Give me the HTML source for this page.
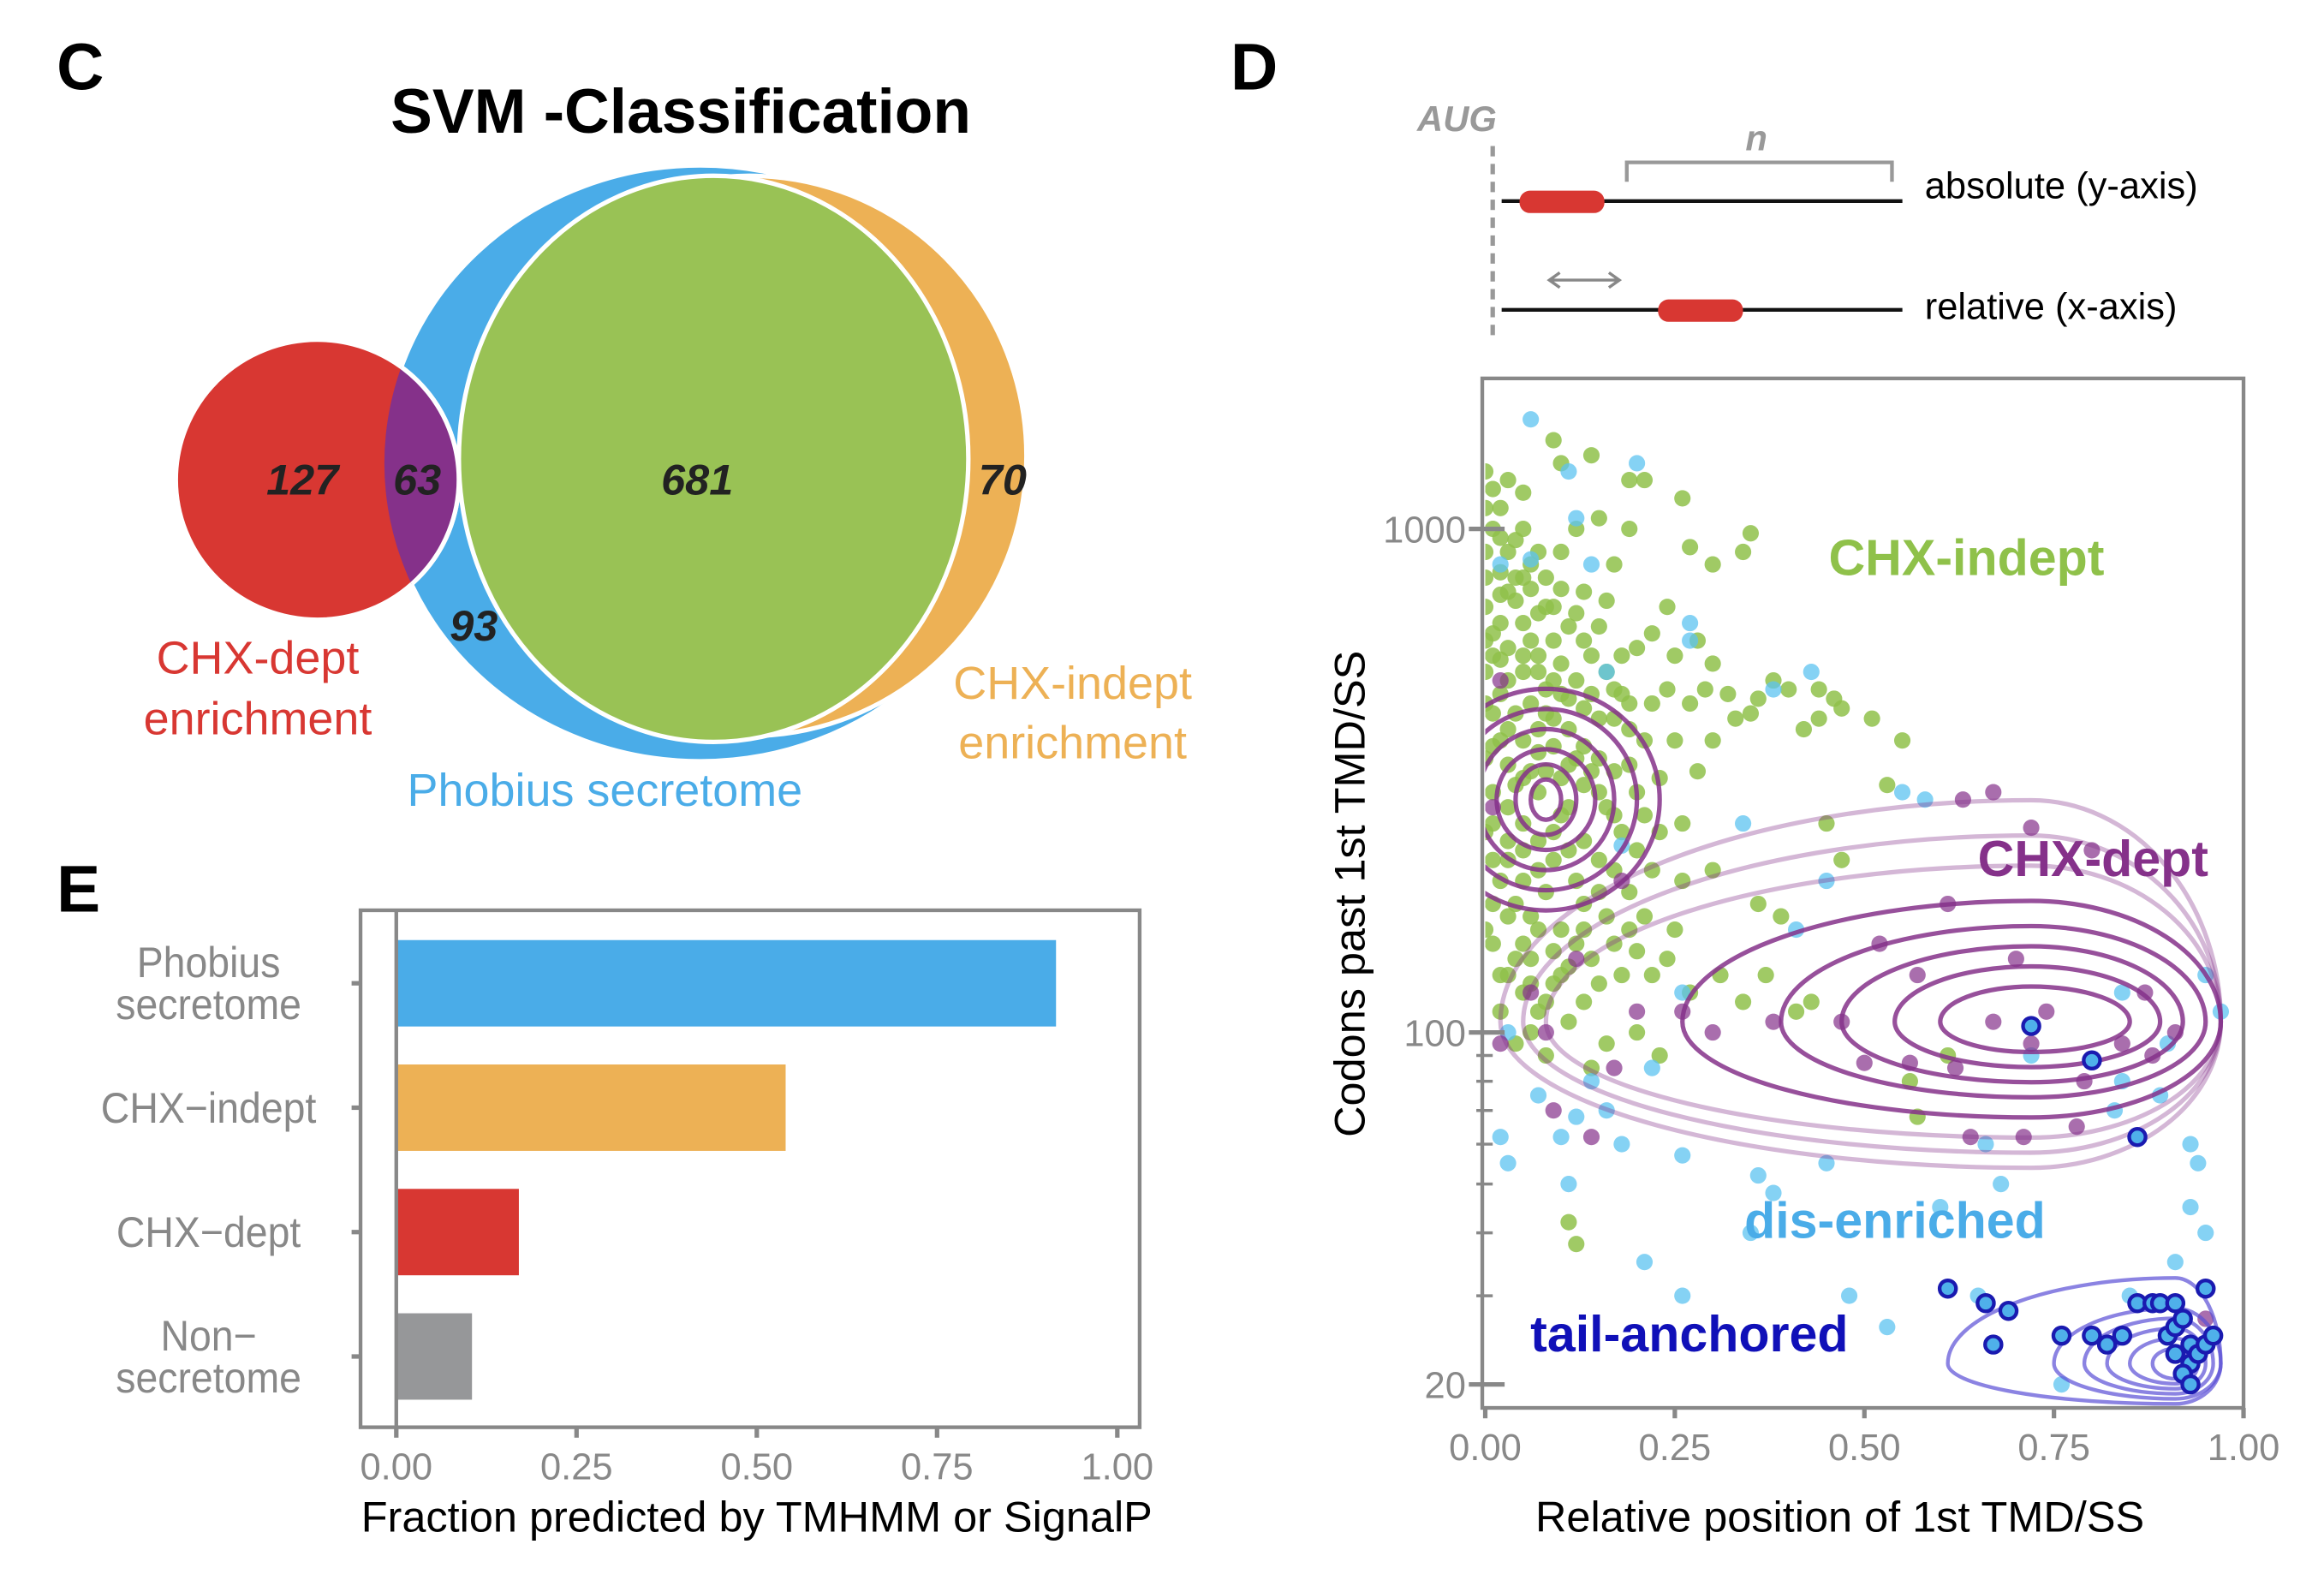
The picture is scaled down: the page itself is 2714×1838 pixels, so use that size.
<!DOCTYPE html>
<html><head><meta charset="utf-8"><style>
html,body{margin:0;padding:0;background:#fff}
svg{display:block}
text{font-family:"Liberation Sans",sans-serif}
</style></head><body>
<svg id="fig" width="2714" height="1838" viewBox="0 0 1560 1056.5" xmlns="http://www.w3.org/2000/svg">
<defs>
<clipPath id="blueClip"><ellipse cx="470" cy="311" rx="212" ry="200"/></clipPath>
<clipPath id="plotClip"><rect x="997" y="256" width="508" height="688"/></clipPath>
</defs>
<text x="38" y="60" font-size="44" font-weight="bold">C</text>
<text x="826" y="60" font-size="44" font-weight="bold">D</text>
<text x="38" y="612" font-size="44" font-weight="bold">E</text>

<g>
<text x="457" y="89" font-size="42" font-weight="bold" text-anchor="middle">SVM -Classification</text>
<ellipse cx="470" cy="311" rx="212" ry="200" fill="#4aace8" stroke="#fff" stroke-width="3"/>
<ellipse cx="503" cy="306" rx="186" ry="188" fill="#edb155" stroke="#fff" stroke-width="3"/>
<ellipse cx="213" cy="322" rx="95" ry="94" fill="#d83732" stroke="#fff" stroke-width="3"/>
<ellipse cx="213" cy="322" rx="95" ry="94" fill="#85318a" stroke="#fff" stroke-width="3" clip-path="url(#blueClip)"/>
<ellipse cx="479" cy="308" rx="171" ry="190" fill="#99c255" stroke="#fff" stroke-width="3"/>
<g font-size="29" font-weight="bold" font-style="italic" fill="#222" text-anchor="middle">
<text x="203" y="332">127</text>
<text x="280" y="332">63</text>
<text x="468" y="332">681</text>
<text x="673" y="332">70</text>
<text x="318" y="430">93</text>
</g>
<g font-size="31" text-anchor="middle">
<text x="173" y="452" fill="#d83732">CHX-dept</text>
<text x="173" y="493" fill="#d83732">enrichment</text>
<text x="406" y="541" fill="#4aace8">Phobius secretome</text>
<text x="720" y="469" fill="#edb155">CHX-indept</text>
<text x="720" y="509" fill="#edb155">enrichment</text>
</g>
</g>

<g id="barChart"></g>

<g>
<text x="978" y="88" font-size="24" font-weight="bold" font-style="italic" fill="#999" text-anchor="middle">AUG</text>
<line x1="1002" y1="98" x2="1002" y2="226" stroke="#999" stroke-width="3" stroke-dasharray="7,5"/>
<line x1="1008" y1="135" x2="1277" y2="135" stroke="#111" stroke-width="2.5"/>
<rect x="1020" y="128" width="57" height="15" rx="7" fill="#d83732"/>
<path d="M1092,122 V109 H1270 V122" fill="none" stroke="#999" stroke-width="2.5"/>
<text x="1179" y="101" font-size="24" font-weight="bold" font-style="italic" fill="#999" text-anchor="middle">n</text>
<text x="1292" y="133" font-size="25">absolute (y-axis)</text>
<line x1="1008" y1="208" x2="1277" y2="208" stroke="#111" stroke-width="2.5"/>
<rect x="1113" y="201" width="57" height="15" rx="7" fill="#d83732"/>
<path d="M1040,188 H1087 M1047,183 L1040,188 L1047,193 M1080,183 L1087,188 L1080,193" fill="none" stroke="#888" stroke-width="2"/>
<text x="1292" y="214" font-size="25">relative (x-axis)</text>
</g>

<g id="scatter"></g>
</svg>
<script>
const NS="http://www.w3.org/2000/svg";
function mk(tag,attrs,parent){const e=document.createElementNS(NS,tag);for(const k in attrs)e.setAttribute(k,attrs[k]);parent.appendChild(e);return e;}

/* ---------- Bar chart data ---------- */
const barCategories=["Phobius\nsecretome","CHX\u2212indept","CHX\u2212dept","Non\u2212\nsecretome"];
const barValues=[0.915,0.54,0.17,0.105];
const barColors=["#4aace8","#edb155","#d83732","#969799"];
const barTicks=[0,0.25,0.5,0.75,1.0];
const barTickLabels=["0.00","0.25","0.50","0.75","1.00"];

const bc=document.getElementById('barChart');
const bx=v=>266+v*(750-266);
const bandY=i=>660+i*83.5;
let frame=mk('rect',{x:242,y:611,width:523,height:347,fill:'none',stroke:'#888','stroke-width':2.5},bc);


barValues.forEach((v,i)=>{
  const r=mk('rect',{x:bx(0),y:bandY(i)-29,width:bx(v)-bx(0),height:58,fill:barColors[i]},bc);
  
  
  const tk=mk('line',{x1:236,x2:242,y1:bandY(i),y2:bandY(i),stroke:'#888','stroke-width':3},bc);
  
  
  const lines=barCategories[i].split('\n');
  lines.forEach((ln,j)=>{
    const t=mk('text',{x:140,y:bandY(i)+10+(j-(lines.length-1)/2)*28,'font-size':29,fill:'#888','text-anchor':'middle',transform:`translate(140,0) scale(0.92,1) translate(-140,0)`},bc);
    t.textContent=ln;
    
    
  });
});
let zl=mk('line',{x1:bx(0),x2:bx(0),y1:612,y2:957,stroke:'#888','stroke-width':2.5},bc);


barTicks.forEach((v,i)=>{
  const l=mk('line',{x1:bx(v),x2:bx(v),y1:958,y2:965,stroke:'#888','stroke-width':3},bc);
  
  
  const t=mk('text',{x:bx(v),y:993,'font-size':25,fill:'#888','text-anchor':'middle'},bc);
  t.textContent=barTickLabels[i];
  
  
});
let bxt=mk('text',{x:508,y:1028,'font-size':29,'text-anchor':'middle'},bc);
bxt.textContent="Fraction predicted by TMHMM or SignalP";



/* ---------- Scatter data ---------- */
const greenPts=[[0.0,1300],[0.01,1200],[0.02,1100],[0.03,1250],[0.05,1180],[0.09,1500],[0.1,1350],[0.14,1400],[0.19,1250],[0.21,1250],[0.03,900],[0.04,950],[0.06,850],[0.08,800],[0.1,900],[0.12,1000],[0.15,1050],[0.17,850],[0.19,1000],[0.27,920],[0.3,850],[0.34,900],[0.35,980],[0.26,1150],[0.0,700],[0.02,650],[0.04,720],[0.06,600],[0.07,680],[0.09,700],[0.11,640],[0.13,750],[0.16,720],[0.02,550],[0.03,500],[0.05,520],[0.07,560],[0.08,480],[0.1,540],[0.12,500],[0.14,470],[0.16,520],[0.18,560],[0.2,580],[0.22,620],[0.25,560],[0.28,600],[0.3,540],[0.24,480],[0.27,450],[0.32,470],[0.36,460],[0.38,500],[0.4,480],[0.44,480],[0.46,460],[0.47,440],[0.51,420],[0.55,380],[0.44,420],[0.42,400],[0.33,420],[0.35,430],[0.01,430],[0.03,400],[0.05,380],[0.07,360],[0.09,420],[0.11,400],[0.13,370],[0.15,350],[0.17,330],[0.19,400],[0.21,380],[0.23,320],[0.01,300],[0.03,280],[0.05,260],[0.07,300],[0.09,250],[0.11,280],[0.13,240],[0.15,220],[0.18,250],[0.2,230],[0.22,210],[0.26,200],[0.3,210],[0.36,180],[0.39,170],[0.45,260],[0.47,220],[0.53,310],[0.02,200],[0.04,180],[0.06,170],[0.08,190],[0.1,160],[0.12,150],[0.14,140],[0.16,170],[0.18,130],[0.2,145],[0.24,140],[0.27,120],[0.31,130],[0.34,115],[0.37,130],[0.41,110],[0.43,115],[0.01,150],[0.03,130],[0.05,120],[0.07,110],[0.09,125],[0.11,105],[0.13,115],[0.16,95],[0.2,100],[0.23,90],[0.02,110],[0.04,95],[0.06,100],[0.08,90],[0.14,85],[0.05,230],[0.07,210],[0.02,380],[0.0,800],[0.01,1000],[0.0,600],[0.0,450],[0.0,350],[0.0,250],[0.01,180],[0.03,750],[0.05,650],[0.06,450],[0.08,330],[0.1,270],[0.12,200],[0.14,330],[0.17,420],[0.24,700],[0.29,480],[0.11,42],[0.12,38],[0.56,80],[0.57,68],[0.61,90],[0.01,560],[0.02,470],[0.04,430],[0.06,330],[0.04,310],[0.08,430],[0.1,470],[0.12,350],[0.0,520],[0.02,740],[0.05,800],[0.09,600],[0.13,600],[0.15,640],[0.18,470],[0.2,300],[0.16,280],[0.1,320],[0.03,220],[0.06,140],[0.01,620],[0.03,580],[0.05,560],[0.07,520],[0.09,500],[0.11,460],[0.13,440],[0.15,420],[0.17,480],[0.19,450],[0.01,370],[0.03,340],[0.05,320],[0.07,400],[0.09,370],[0.11,340],[0.13,310],[0.15,300],[0.17,270],[0.19,340],[0.21,270],[0.01,260],[0.03,240],[0.05,200],[0.07,240],[0.09,220],[0.11,230],[0.13,180],[0.15,190],[0.17,210],[0.19,190],[0.21,170],[0.01,220],[0.03,170],[0.05,150],[0.07,160],[0.09,145],[0.11,135],[0.13,160],[0.15,125],[0.17,150],[0.0,160],[0.02,130],[0.04,140],[0.06,125],[0.08,115],[0.1,130],[0.0,900],[0.02,820],[0.04,800],[0.06,760],[0.08,700],[0.1,760],[0.12,680],[0.14,560],[0.0,1100],[0.02,960],[0.05,1000],[0.07,900],[0.22,450],[0.25,380],[0.28,330],[0.3,380],[0.23,250],[0.26,260],[0.19,160],[0.22,130],[0.25,160]];
const bluePts=[[0.06,1650],[0.11,1300],[0.12,1050],[0.2,1350],[0.02,850],[0.06,870],[0.14,850],[0.27,650],[0.27,600],[0.16,520],[0.43,520],[0.38,480],[0.55,300],[0.58,290],[0.34,260],[0.18,235],[0.41,160],[0.45,200],[0.26,120],[0.22,85],[0.14,80],[0.03,100],[0.07,75],[0.12,68],[0.16,70],[0.26,57],[0.02,62],[0.1,62],[0.18,60],[0.03,55],[0.11,50],[0.36,52],[0.38,48],[0.68,50],[0.6,45],[0.66,60],[0.72,90],[0.84,80],[0.89,75],[0.93,60],[0.94,55],[0.93,45],[0.95,40],[0.91,35],[0.83,70],[0.48,30],[0.45,55],[0.35,40],[0.21,35],[0.26,30],[0.53,26],[0.65,30],[0.84,120],[0.95,130],[0.9,95],[0.97,110],[0.76,20],[0.85,30]];
const purplePts=[[0.06,120],[0.08,100],[0.02,95],[0.12,140],[0.17,85],[0.2,110],[0.18,200],[0.26,110],[0.3,100],[0.38,105],[0.47,105],[0.52,150],[0.57,130],[0.61,180],[0.67,105],[0.7,140],[0.72,95],[0.74,110],[0.79,80],[0.84,95],[0.88,90],[0.62,85],[0.56,87],[0.5,87],[0.63,290],[0.67,300],[0.72,255],[0.8,230],[0.87,120],[0.91,100],[0.02,500],[0.01,280],[0.64,62],[0.71,62],[0.78,65],[0.09,70],[0.14,62],[0.95,27]];
const tailPts=[[0.61,31],[0.66,29],[0.69,28],[0.67,24],[0.76,25],[0.8,25],[0.84,25],[0.82,24],[0.86,29],[0.88,29],[0.89,29],[0.91,29],[0.9,25],[0.91,26],[0.92,27],[0.93,24],[0.91,23],[0.93,22],[0.92,21],[0.94,23],[0.95,24],[0.96,25],[0.95,31],[0.93,20],[0.72,103],[0.8,88],[0.86,62]];
const deptCenter=[0.72,105];
const deptLeft=[0.12,0.18,0.25,0.33,0.46,0.64,0.67,0.7];
const deptRight=[0.13,0.17,0.2,0.23,0.25,0.25,0.25,0.25];
const deptUp=[0.07,0.11,0.15,0.19,0.24,0.31,0.37,0.44];
const deptDown=[0.06,0.09,0.12,0.15,0.19,0.23,0.26,0.29];
const indCenter=[0.08,290];
const indR=[0.02,0.04,0.065,0.09,0.12,0.15];
const indV=[0.04,0.07,0.1,0.14,0.18,0.22];
const tailCenter=[0.91,22];
const tailLeft=[0.03,0.06,0.09,0.12,0.16,0.3];
const tailRight=[0.02,0.03,0.04,0.05,0.06,0.06];
const tailUp=[0.03,0.05,0.07,0.09,0.11,0.17];
const tailDown=[0.03,0.04,0.05,0.06,0.07,0.08];
const xTicks=[0,0.25,0.5,0.75,1.0];
const xTickLabels=["0.00","0.25","0.50","0.75","1.00"];
const yTicks=[20,100,1000];
const yTickLabels=["20","100","1000"];
const yMinor=[30,40,50,60,70,80,90];

const sc=document.getElementById('scatter');
const sx=v=>997+v*(1506-997);
const sy=v=>693-(Math.log10(v)-2)*338;
const ly=(l)=>338*l;

let sframe=mk('rect',{x:995,y:254,width:511,height:691,fill:'none',stroke:'#888','stroke-width':2.5},sc);



const gPlot=mk('g',{'clip-path':'url(#plotClip)'},sc);



function ring(c,rl,rr,up,dn,color,w,op,name){
  const cx=sx(c[0]),cy=sy(c[1]);
  const L=rl*509,R=rr*509,U=ly(up),D=ly(dn);
  const d=`M${cx+R},${cy} A${R},${D} 0 0 1 ${cx},${cy+D} A${L},${D} 0 0 1 ${cx-L},${cy} A${L},${U} 0 0 1 ${cx},${cy-U} A${R},${U} 0 0 1 ${cx+R},${cy} Z`;
  const p=mk('path',{d:d,fill:'none',stroke:color,'stroke-width':w,'stroke-opacity':op},gPlot);
  
  
}
function dots(arr,fill,op,name){
  arr.forEach(pt=>{
    const c=mk('circle',{cx:sx(pt[0]),cy:sy(pt[1]),r:5.5,fill:fill,'fill-opacity':op},gPlot);
    
    
  });
}
dots(greenPts,'#8fc14a',0.85,'chx-indept-point');
dots(bluePts,'#5cc3f0',0.75,'dis-enriched-point');
deptLeft.forEach((l,i)=>ring(deptCenter,l,deptRight[i],deptUp[i],deptDown[i],'#85318a',3,i<5?0.85:0.35,'chx-dept-contour'));
indR.forEach((r,i)=>ring(indCenter,r,r,indV[i],indV[i],'#85318a',3,0.85,'chx-indept-contour'));
dots(purplePts,'#85318a',0.7,'chx-dept-point');
tailLeft.forEach((l,i)=>ring(tailCenter,l,tailRight[i],tailUp[i],tailDown[i],'#5a4fd6',2.5,0.7,'tail-anchored-contour'));
tailPts.forEach(pt=>{
  const c=mk('circle',{cx:sx(pt[0]),cy:sy(pt[1]),r:5.5,fill:'#4fb0ea',stroke:'#1a1ab0','stroke-width':2.5},gPlot);
  
  
});

xTicks.forEach((v,i)=>{
  const l=mk('line',{x1:sx(v),x2:sx(v),y1:945,y2:952,stroke:'#888','stroke-width':3},sc);
  
  
  const t=mk('text',{x:sx(v),y:980,'font-size':25,fill:'#888','text-anchor':'middle'},sc);
  t.textContent=xTickLabels[i];
  
  
});
yTicks.forEach((v,i)=>{
  const l=mk('line',{x1:986,x2:1010,y1:sy(v),y2:sy(v),stroke:'#888','stroke-width':3},sc);
  
  
  const t=mk('text',{x:984,y:sy(v)+9,'font-size':25,fill:'#888','text-anchor':'end'},sc);
  t.textContent=yTickLabels[i];
  
  
});
yMinor.forEach(v=>{
  const l=mk('line',{x1:991,x2:1002,y1:sy(v),y2:sy(v),stroke:'#888','stroke-width':2},sc);
  
  
});
let xt=mk('text',{x:1235,y:1028,'font-size':29,'text-anchor':'middle'},sc);
xt.textContent="Relative position of 1st TMD/SS";


let yt=mk('text',{x:0,y:0,'font-size':29,'text-anchor':'middle',transform:'translate(916,600) rotate(-90)'},sc);
yt.textContent="Codons past 1st TMD/SS";


const lbls=[["CHX-indept",1320,386,'#8fc14a'],["CHX-dept",1405,588,'#85318a'],["dis-enriched",1272,831,'#4aace8'],["tail-anchored",1134,907,'#1010b8']];
lbls.forEach(a=>{
  const t=mk('text',{x:a[1],y:a[2],'font-size':34,'font-weight':'bold',fill:a[3],'text-anchor':'middle'},sc);
  t.textContent=a[0];
  
  
});
</script>
</body></html>
